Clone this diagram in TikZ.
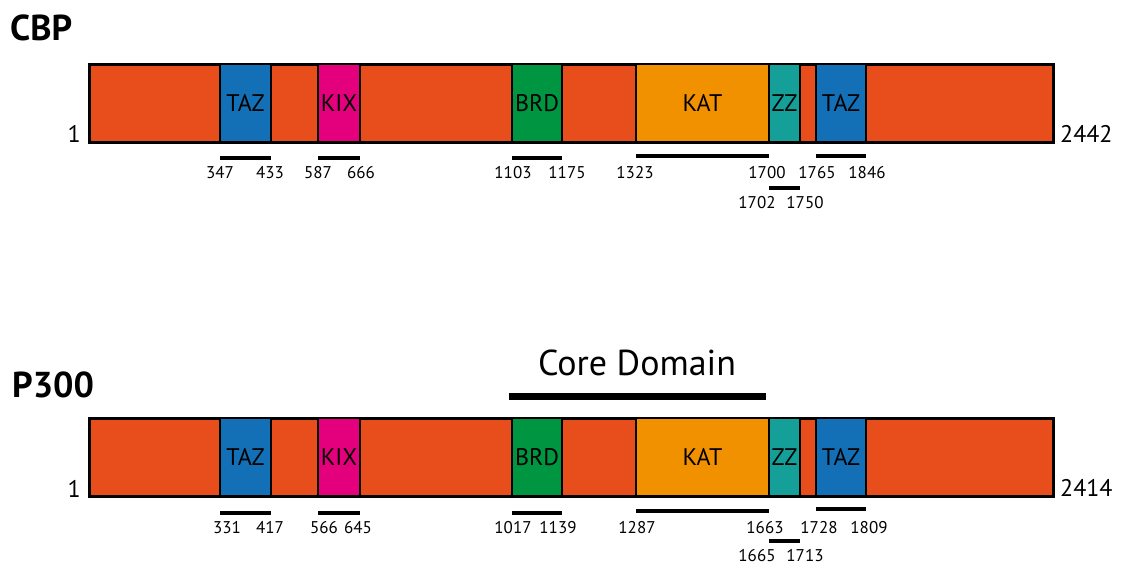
\documentclass[tikz,border=0pt]{standalone}
\usepackage{fontspec}
\setmainfont{PT Sans}
\definecolor{chain}{HTML}{E84E1B}
\definecolor{tazblue}{HTML}{1370B7}
\definecolor{kixpink}{HTML}{E4007D}
\definecolor{brdgreen}{HTML}{009540}
\definecolor{katorange}{HTML}{F29100}
\definecolor{zzteal}{HTML}{14A098}
\begin{document}
\begin{tikzpicture}[x=1pt,y=-1pt,
  chainbar/.style={draw=black, line width=3pt, fill=chain, inner sep=0pt, outer sep=0pt,
    minimum width=964pt, minimum height=78pt, anchor=north west},
  dombox/.style={draw=black, line width=2.5pt, inner sep=0pt, outer sep=0pt,
    minimum height=78pt, anchor=north west, font=\fontsize{24}{24}\selectfont},
  rangebar/.style={line width=4pt},
  corebar/.style={line width=7pt},
  resnum/.style={font=\fontsize{17}{17}\selectfont, inner sep=0pt, anchor=base},
  termnum/.style={font=\fontsize{24}{24}\selectfont, inner sep=0pt},
  protname/.style={font=\bfseries\fontsize{36}{36}\selectfont, inner sep=0pt, anchor=base west}]
\useasboundingbox (0,0) rectangle (1123,565);

% ---------- CBP ----------
\begin{scope}[name prefix=cbp-]
  \node[protname] (name) at (10,40) {CBP};
  \node[chainbar] (bar) at (89,64) {};
  \node[dombox, fill=tazblue,   minimum width=51pt]  (taz1) at (220,64) {\raisebox{-4pt}{TAZ}};
  \node[dombox, fill=kixpink,   minimum width=42pt]  (kix)  at (318,64) {\raisebox{-4pt}{KIX}};
  \node[dombox, fill=brdgreen,  minimum width=50pt]  (brd)  at (512,64) {\raisebox{-4pt}{BRD}};
  \node[dombox, fill=katorange, minimum width=133pt] (kat)  at (636,64) {\raisebox{-4pt}{KAT}};
  \node[dombox, fill=zzteal,    minimum width=31pt]  (zz)   at (769,64) {\raisebox{-4pt}{ZZ}};
  \node[dombox, fill=tazblue,   minimum width=50pt]  (taz2) at (816,64) {\raisebox{-4pt}{TAZ}};
  \node[termnum, anchor=base east] (first) at (81,142) {1};
  \node[termnum, anchor=base west] (last) at (1060,142) {2442};
  % residue ranges under each domain
  \draw[rangebar] ([yshift=-16pt]taz1.south west) -- ([yshift=-16pt]taz1.south east);
  \draw[rangebar] ([yshift=-16pt]kix.south west)  -- ([yshift=-16pt]kix.south east);
  \draw[rangebar] ([yshift=-16pt]brd.south west)  -- ([yshift=-16pt]brd.south east);
  \draw[rangebar] ([yshift=-14pt]kat.south west)  -- ([yshift=-14pt]kat.south east);
  \draw[rangebar] ([yshift=-46pt]zz.south west)   -- ([yshift=-46pt]zz.south east);
  \draw[rangebar] ([yshift=-14pt]taz2.south west) -- ([yshift=-14pt]taz2.south east);
  \node[resnum] (p1)  at (220,178) {347};
  \node[resnum] (p2)  at (270,178) {433};
  \node[resnum] (p3)  at (318,178) {587};
  \node[resnum] (p4)  at (361,178) {666};
  \node[resnum] (p5)  at (513,178) {1103};
  \node[resnum] (p6)  at (567,178) {1175};
  \node[resnum] (p7)  at (635,178) {1323};
  \node[resnum] (p8)  at (767,178) {1700};
  \node[resnum] (p9)  at (817,178) {1765};
  \node[resnum] (p10) at (867,178) {1846};
  \node[resnum] (p11) at (757,208) {1702};
  \node[resnum] (p12) at (805,208) {1750};
\end{scope}

% ---------- P300 ----------
\begin{scope}[name prefix=p300-]
  \node[protname] (name) at (12,397) {P300};
  \node[font=\fontsize{36}{36}\selectfont, inner sep=0pt, anchor=base] (core) at (637,375) {Core Domain};
  \coordinate (coreL) at (509,396.5);
  \coordinate (coreR) at (766,396.5);
  \draw[corebar] (coreL) -- (coreR);
  \node[chainbar] (bar) at (89,418) {};
  \node[dombox, fill=tazblue,   minimum width=51pt]  (taz1) at (220,418) {\raisebox{-4pt}{TAZ}};
  \node[dombox, fill=kixpink,   minimum width=42pt]  (kix)  at (318,418) {\raisebox{-4pt}{KIX}};
  \node[dombox, fill=brdgreen,  minimum width=50pt]  (brd)  at (512,418) {\raisebox{-4pt}{BRD}};
  \node[dombox, fill=katorange, minimum width=133pt] (kat)  at (636,418) {\raisebox{-4pt}{KAT}};
  \node[dombox, fill=zzteal,    minimum width=31pt]  (zz)   at (769,418) {\raisebox{-4pt}{ZZ}};
  \node[dombox, fill=tazblue,   minimum width=50pt]  (taz2) at (816,418) {\raisebox{-4pt}{TAZ}};
  \node[termnum, anchor=base east] (first) at (81,497) {1};
  \node[termnum, anchor=base west] (last) at (1060,496) {2414};
  % residue ranges under each domain
  \draw[rangebar] ([yshift=-17pt]taz1.south west) -- ([yshift=-17pt]taz1.south east);
  \draw[rangebar] ([yshift=-17pt]kix.south west)  -- ([yshift=-17pt]kix.south east);
  \draw[rangebar] ([yshift=-17pt]brd.south west)  -- ([yshift=-17pt]brd.south east);
  \draw[rangebar] ([yshift=-15pt]kat.south west)  -- ([yshift=-15pt]kat.south east);
  \draw[rangebar] ([yshift=-45pt]zz.south west)   -- ([yshift=-45pt]zz.south east);
  \draw[rangebar] ([yshift=-13pt]taz2.south west) -- ([yshift=-13pt]taz2.south east);
  \node[resnum] (p1)  at (227,533) {331};
  \node[resnum] (p2)  at (270,533) {417};
  \node[resnum] (p3)  at (324,533) {566};
  \node[resnum] (p4)  at (358,533) {645};
  \node[resnum] (p5)  at (513,533) {1017};
  \node[resnum] (p6)  at (558,533) {1139};
  \node[resnum] (p7)  at (637,533) {1287};
  \node[resnum] (p8)  at (765,533) {1663};
  \node[resnum] (p9)  at (819,533) {1728};
  \node[resnum] (p10) at (869,533) {1809};
  \node[resnum] (p11) at (757,561) {1665};
  \node[resnum] (p12) at (805,561) {1713};
\end{scope}
\end{tikzpicture}
\end{document}
